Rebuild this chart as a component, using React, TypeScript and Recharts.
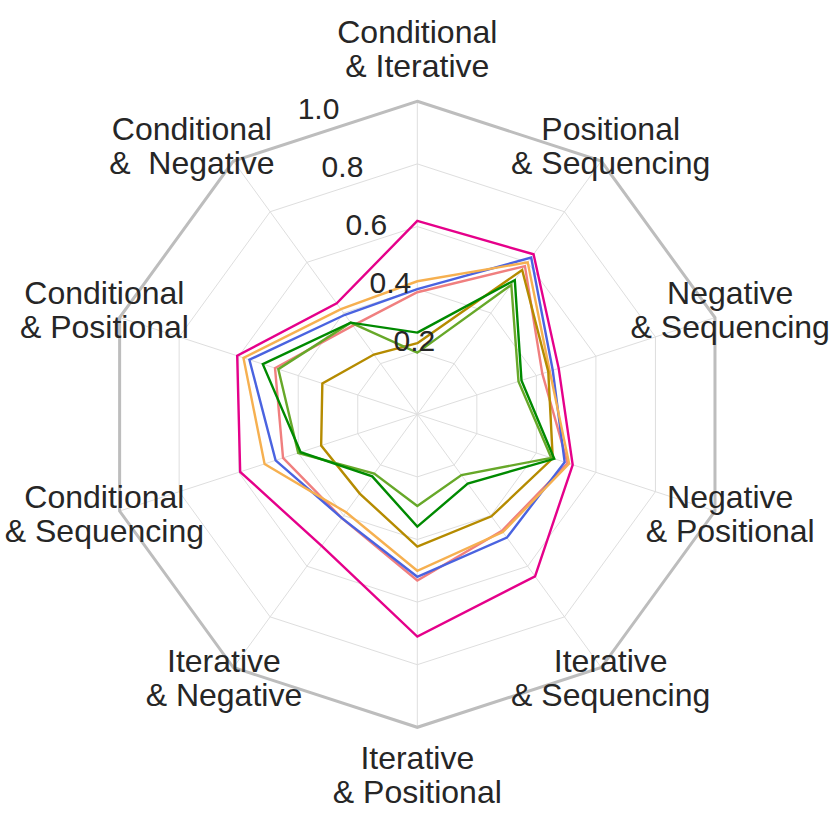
import React from 'react';
import { RadarChart, Radar, PolarGrid, PolarAngleAxis, PolarRadiusAxis } from 'recharts';

const categories = [
  'Conditional & Iterative',
  'Conditional &  Negative',
  'Conditional & Positional',
  'Conditional & Sequencing',
  'Iterative & Negative',
  'Iterative & Positional',
  'Iterative & Sequencing',
  'Negative & Positional',
  'Negative & Sequencing',
  'Positional & Sequencing',
];

const radiusTicks = [0.2, 0.4, 0.6, 0.8, 1.0];

const seriesMagenta = [0.618, 0.438, 0.605, 0.595, 0.52, 0.71, 0.64, 0.522, 0.475, 0.632];
const seriesBlue = [0.40, 0.393, 0.564, 0.476, 0.41, 0.519, 0.487, 0.495, 0.455, 0.619];
const seriesOrange = [0.425, 0.415, 0.584, 0.513, 0.387, 0.50, 0.465, 0.51, 0.445, 0.60];
const seriesSalmon = [0.39, 0.35, 0.478, 0.451, 0.41, 0.531, 0.46, 0.505, 0.42, 0.585];
const seriesDarkGreen = [0.261, 0.362, 0.519, 0.392, 0.245, 0.359, 0.274, 0.46, 0.35, 0.53];
const seriesLightGreen = [0.197, 0.362, 0.467, 0.40, 0.234, 0.293, 0.24, 0.45, 0.34, 0.511];
const seriesGold = [0.227, 0.236, 0.319, 0.323, 0.313, 0.423, 0.403, 0.455, 0.44, 0.57];

const series = [
  { key: 'salmon', values: seriesSalmon, color: '#f07f7f' },
  { key: 'blue', values: seriesBlue, color: '#4a63e0' },
  { key: 'orange', values: seriesOrange, color: '#f6b050' },
  { key: 'gold', values: seriesGold, color: '#b58b00' },
  { key: 'lightgreen', values: seriesLightGreen, color: '#67a829' },
  { key: 'darkgreen', values: seriesDarkGreen, color: '#008a00' },
  { key: 'magenta', values: seriesMagenta, color: '#e5008a' },
];

// categories run counter-clockwise from the top in the reference; the chart
// lays them out clockwise, so walk them in reverse after the first one
const order = [0, ...categories.map((_, i) => i).slice(1).reverse()];

const data = order.map((i) => {
  const row: any = { category: categories[i] };
  series.forEach((s) => { row[s.key] = s.values[i]; });
  return row;
});

const W = 830;
const H = 830;
const CX = 417.3;
const CY = 414.3;
const R = 313;
const FONT = '"Liberation Sans", Arial, Helvetica, sans-serif';
const TEXT = '#262626';

const labelNudge: Record<string, number> = { 'Conditional &  Negative': -32 };

function AngleTick(props: any) {
  const { payload } = props;
  const label: string = payload.value;
  const ang = (payload.coordinate * Math.PI) / 180;
  const fs = 32;
  const lineGap = 34;
  const rr = 329;
  let x = CX + rr * Math.cos(ang) + (labelNudge[label] || 0);
  let y = CY - rr * Math.sin(ang);
  const s = Math.sin(ang);
  if (s > 0.99) y -= lineGap;
  if (s < -0.99) y += lineGap;
  const idx = label.indexOf('&');
  const l1 = label.slice(0, idx).trim();
  const l2 = label.slice(idx);
  return (
    <text textAnchor="middle" fontSize={fs} fontFamily={FONT} fill={TEXT} style={{ whiteSpace: 'pre' }}>
      <tspan x={x} y={y - lineGap / 2 + fs * 0.27}>{l1}</tspan>
      <tspan x={x} y={y + lineGap / 2 + fs * 0.27}>{l2}</tspan>
    </text>
  );
}

function RadiusTick(props: any) {
  const { x, y, payload } = props;
  const fs = 30;
  return (
    <text x={x + 21} y={y - 16 + fs * 0.34} textAnchor="middle" fontSize={fs} fontFamily={FONT} fill={TEXT}>
      {payload.value.toFixed(1)}
    </text>
  );
}

export default function App() {
  return (
    <div style={{ position: 'absolute', left: 0, top: 0, width: W, height: H, background: '#fff' }}>
      <RadarChart
        width={W}
        height={H}
        data={data}
        cx={CX}
        cy={CY}
        outerRadius={R}
        margin={{ top: 0, right: 0, bottom: 0, left: 0 }}
      >
        <PolarGrid gridType="polygon" stroke="#dedede" strokeWidth={1} />
        <PolarGrid gridType="polygon" radialLines={false} polarRadius={[R]} stroke="#bdbdbd" strokeWidth={3} />
        <PolarAngleAxis dataKey="category" tick={<AngleTick />} axisLine={false} tickLine={false} />
        <PolarRadiusAxis
          angle={112.5}
          domain={[0, 1]}
          ticks={radiusTicks}
          tick={<RadiusTick />}
          axisLine={false}
          tickLine={false}
        />
        {series.map((s) => (
          <Radar
            key={s.key}
            dataKey={s.key}
            stroke={s.color}
            strokeWidth={2.4}
            fill="none"
            fillOpacity={0}
            dot={false}
            isAnimationActive={false}
          />
        ))}
      </RadarChart>
    </div>
  );
}
